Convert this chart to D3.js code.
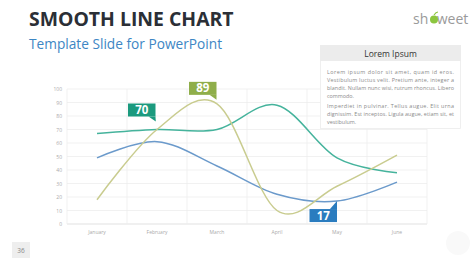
<!DOCTYPE html>
<html><head><meta charset="utf-8">
<script src="https://cdn.jsdelivr.net/npm/d3@7/dist/d3.min.js"></script>
<style>html,body{margin:0;padding:0;background:#fff;}svg{display:block;}</style>
</head><body><svg id="c" width="474" height="266"></svg>
<script>
const months = ["January","February","March","April","May","June"];
const tealValues = [67,70,70,88,49,38];
const blueValues = [49,61,43,22,17,31];
const oliveValues = [18,70,89,10,28,51];
const yTickValues = [0,10,20,30,40,50,60,70,80,90,100];
const seriesNames = ["teal","blue","olive"];
const seriesColors = {teal:"#45b39c", blue:"#6b9acb", olive:"#c9cc8f"};
const calloutSeries = ["teal","olive","blue"];
const calloutIndex = [1,2,4];
const calloutColors = ["#1b9a7e","#8fae4a","#2a7cbf"];
const para1 = ["Lorem ipsum dolor sit amet, quam id eros.","Vestibulum luctus velit. Pretium ante, integer a","blandit. Nullam nunc wisi, rutrum rhoncus. Libero","commodo."];
const para2 = ["Imperdiet in pulvinar. Tellus augue. Elit urna","dignissim. Est inceptos. Ligula augue, etiam sit, et","vestibulum."];

const values = {teal:tealValues, blue:blueValues, olive:oliveValues};
const svg = d3.select("#c");
const F = "'Open Sans', 'Noto Sans', sans-serif";

// Title
svg.append("text").attr("x",29).attr("y",26).attr("font-family",F).attr("font-weight",700)
  .attr("font-size",19.4).attr("fill","#2b2f36").text("SMOOTH LINE CHART");
svg.append("text").attr("x",29).attr("y",49).attr("font-family",F)
  .attr("font-size",13.7).attr("fill","#3d86c4").text("Template Slide for PowerPoint");

// Logo
const logo = svg.append("text").attr("x",413).attr("y",24).attr("font-family",F)
  .attr("font-size",14).attr("fill","#9a9a9a");
logo.append("tspan").text("sh");
logo.append("tspan").attr("fill","none").text("o");
logo.append("tspan").text("weet");
svg.append("circle").attr("cx",434).attr("cy",19.5).attr("r",4).attr("fill","#8cc63f");
svg.append("path").attr("d","M434,15 q2,-3 4,-3").attr("stroke","#8cc63f").attr("fill","none").attr("stroke-width",1.2);

// Scales
const x = d3.scaleBand().domain(months).range([67,427]);
const y = d3.scaleLinear().domain([0,100]).range([224,89]);
const cx = m => x(m) + x.bandwidth()/2;

// Grid
const g = svg.append("g");
g.selectAll("line.h").data(yTickValues).join("line")
  .attr("x1",67).attr("x2",427).attr("y1",d=>y(d)).attr("y2",d=>y(d))
  .attr("stroke",d=>d===0?"#d9d9d9":"#eeeeee").attr("stroke-width",0.8);
const vlines = months.map(m=>x(m)).concat([427]);
g.selectAll("line.v").data(vlines).join("line")
  .attr("x1",d=>d).attr("x2",d=>d).attr("y1",89).attr("y2",224)
  .attr("stroke","#eeeeee").attr("stroke-width",0.8);

// Axes
const yAxis = d3.axisLeft(y).tickValues(yTickValues).tickSize(0).tickPadding(5);
const ya = svg.append("g").attr("transform","translate(67,0)").call(yAxis);
ya.select(".domain").remove();
ya.selectAll("text").attr("font-family",F).attr("font-size",5).attr("fill","#aaaaaa");
const xAxis = d3.axisBottom(x).tickSize(0).tickPadding(6);
const xa = svg.append("g").attr("transform","translate(0,224)").call(xAxis);
xa.select(".domain").remove();
xa.selectAll("text").attr("font-family",F).attr("font-size",5).attr("fill","#aaaaaa");

// Lines
const line = d3.line().x(d=>cx(d.m)).y(d=>y(d.v)).curve(d3.curveCatmullRom.alpha(0));
seriesNames.forEach(s=>{
  const pts = months.map((m,i)=>({m, v:values[s][i]}));
  svg.append("path").datum(pts).attr("d",line).attr("fill","none")
    .attr("stroke",seriesColors[s]).attr("stroke-width",1.5);
});

// Callouts
calloutSeries.forEach((s,k)=>{
  const i = calloutIndex[k];
  const v = values[s][i];
  const px = cx(months[i]), py = y(v);
  let bx, by, tail;
  const w = 27.5, h = 13;
  if (k===0){ bx = px-29; by = py-26; tail = [[bx+w-7,by+h],[bx+w,by+h],[bx+w+0.3,by+h+5]]; }
  else if (k===1){ bx = px-28; by = py-22; tail = [[bx+w-7,by+h],[bx+w,by+h],[bx+w,by+h+5]]; }
  else { bx = px-27.5; by = py+8; tail = [[bx+w-7,by],[bx+w,by],[bx+w,by-8]]; }
  svg.append("rect").attr("x",bx).attr("y",by).attr("width",w).attr("height",h).attr("fill",calloutColors[k]);
  svg.append("path").attr("d","M"+tail.map(p=>p.join(",")).join("L")+"Z").attr("fill",calloutColors[k]);
  svg.append("text").attr("x",bx+w/2).attr("y",by+h/2+4).attr("text-anchor","middle")
    .attr("font-family",F).attr("font-weight",700).attr("font-size",11.5).attr("fill","#ffffff").text(v);
});

// Text box
svg.append("rect").attr("x",320.5).attr("y",45.5).attr("width",140).attr("height",83)
  .attr("fill","#ffffff").attr("stroke","#ececec").attr("stroke-width",0.8);
svg.append("rect").attr("x",320).attr("y",45).attr("width",141).attr("height",16).attr("fill","#ececec");
svg.append("text").attr("x",390.5).attr("y",56.5).attr("text-anchor","middle").attr("font-family",F)
  .attr("font-size",8.5).attr("fill","#333").text("Lorem Ipsum");
const bodyText = (lines, y0) => lines.forEach((t,i)=>{
  const last = i===lines.length-1;
  const tx = svg.append("text").attr("x",327).attr("y",y0+i*8).attr("font-family",F)
    .attr("font-size",5.4).attr("fill","#8a8a8a").text(t);
  if(!last){ tx.attr("textLength",127).attr("lengthAdjust","spacing"); }
});
bodyText(para1, 74);
bodyText(para2, 108);

// Page number
svg.append("rect").attr("x",12).attr("y",242).attr("width",18).attr("height",16).attr("fill","#eeeeee");
svg.append("text").attr("x",21).attr("y",252.5).attr("text-anchor","middle").attr("font-family",F)
  .attr("font-size",6.5).attr("fill","#888").text("36");

// faint watermark
svg.append("circle").attr("cx",458).attr("cy",243).attr("r",12).attr("fill","#f9f9f9");
</script></body></html>
